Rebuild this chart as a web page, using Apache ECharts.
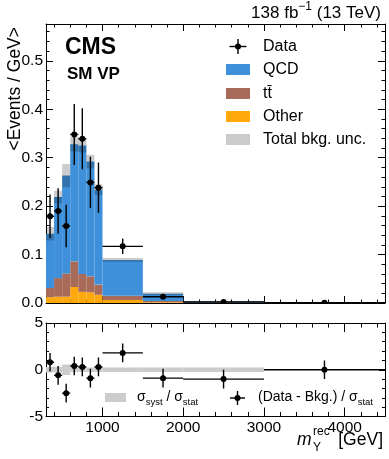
<!DOCTYPE html>
<html><head><meta charset="utf-8">
<script src="https://cdn.jsdelivr.net/npm/echarts@6/dist/echarts.min.js"></script>
<style>html,body{margin:0;padding:0;background:#fff}#c{width:389px;height:459px}</style>
</head><body><div id="c"></div>
<script>
// ---------------- data ----------------
const binEdges  = [300, 400, 500, 600, 700, 800, 900, 1000, 1500, 2000, 3000, 4500];
const qcdVals   = [0.112, 0.1675, 0.202, 0.242, 0.265, 0.237, 0.196, 0.074, 0.015, 0.0022, 0.0003];
const ttbarVals = [0.019, 0.0385, 0.048, 0.053, 0.037, 0.033, 0.021, 0.009, 0.0025, 0.0005, 0.00005];
const otherVals = [0.012, 0.013, 0.013, 0.033, 0.023, 0.022, 0.017, 0.006, 0.0015, 0.0003, 0.00005];
const bkgUnc    = [0.014, 0.013, 0.024, 0.015, 0.014, 0.014, 0.011, 0.004, 0.003, 0.001, 0.0002];
const dataVals  = [0.179, 0.190, 0.159, 0.348, 0.339, 0.249, 0.238, 0.117, 0.013, 0.002, 0.0007];
const dataErr   = [0.045, 0.047, 0.044, 0.063, 0.063, 0.053, 0.052, 0.016, 0.005, 0.0014, 0.0007];
const pullVals  = [0.8, -0.6, -2.5, 0.4, 0.3, -0.9, 0.3, 1.8, -0.9, -1.0, 0.0];
const pullErr   = [1, 1, 1, 1, 1, 1, 1, 1, 1, 1, 1];
const systOverStat = [0.3, 0.3, 0.55, 0.25, 0.25, 0.25, 0.25, 0.25, 0.25, 0.25, 0.04];
const xTickLabels = [1000, 2000, 3000, 4000];
const yTickLabels = [0, 0.1, 0.2, 0.3, 0.4, 0.5];
const pullTickLabels = [-5, 0, 5];

// ---------------- helpers ----------------
const FONT = '"Liberation Sans", Arial, Helvetica, sans-serif';
const COL = {qcd: '#3f90da', tt: '#a96b59', other: '#ffa90e', unc: 'rgba(0,0,0,0.2)', band: '#cccccc'};
function range(a, b, s) { const r = []; for (let v = a; v <= b + 1e-9; v += s) r.push(Math.round(v * 1e6) / 1e6); return r; }
const nb = binEdges.length - 1;
const lo = binEdges.slice(0, nb), hi = binEdges.slice(1);

function stackData(baseArr, valArr) {
  return lo.map((l, i) => [l, hi[i], baseArr[i], baseArr[i] + valArr[i]]);
}
const zeros = lo.map(() => 0);
const ttBase = otherVals;
const qcdBase = otherVals.map((v, i) => v + ttbarVals[i]);
const totals = qcdBase.map((v, i) => v + qcdVals[i]);

function rectRender(color) {
  return function (params, api) {
    const p0 = api.coord([api.value(0), api.value(3)]);
    const p1 = api.coord([api.value(1), api.value(2)]);
    return {type: 'rect', shape: {x: p0[0], y: p0[1], width: p1[0] - p0[0], height: p1[1] - p0[1]},
      style: {fill: color}};
  };
}
function pointRender(params, api) {
  const xc = api.value(0), y = api.value(1), e = api.value(2), l = api.value(3), h = api.value(4);
  const c = api.coord([xc, y]);
  const top = api.coord([xc, y + e]), bot = api.coord([xc, y - e]);
  const left = api.coord([l, y]), right = api.coord([h, y]);
  const ls = {stroke: '#000', lineWidth: 1.4};
  return {type: 'group', children: [
    {type: 'line', shape: {x1: c[0], y1: top[1], x2: c[0], y2: bot[1]}, style: ls},
    {type: 'line', shape: {x1: left[0], y1: c[1], x2: right[0], y2: c[1]}, style: ls},
    {type: 'circle', shape: {cx: c[0], cy: c[1], r: 3}, style: {fill: '#000'}}
  ]};
}

function xAx(grid, pos, vals, len, showLine, labels) {
  return {type: 'value', gridIndex: grid, position: pos, min: 300, max: 4500,
    axisLine: {show: showLine, onZero: false, lineStyle: {color: '#000', width: 1}},
    axisTick: {show: true, inside: true, length: len, customValues: vals, lineStyle: {color: '#000', width: 1}},
    axisLabel: labels ? {show: true, customValues: xTickLabels, margin: 3, color: '#000',
      fontFamily: FONT, fontSize: 15.5, formatter: v => String(v)} : {show: false},
    splitLine: {show: false}, minorTick: {show: false}};
}
function yAx(grid, pos, min, max, vals, len, showLine, labels, fmt) {
  return {type: 'value', gridIndex: grid, position: pos, min: min, max: max,
    axisLine: {show: showLine, onZero: false, lineStyle: {color: '#000', width: 1}},
    axisTick: {show: true, inside: true, length: len, customValues: vals, lineStyle: {color: '#000', width: 1}},
    axisLabel: labels ? {show: true, customValues: labels, margin: 3, color: '#000',
      fontFamily: FONT, fontSize: 15.5, formatter: fmt} : {show: false},
    splitLine: {show: false}, minorTick: {show: false}};
}

const xMinor = range(400, 4400, 200);
const yMinor = range(0.02, 0.56, 0.02);
const pMinor = range(-4, 4, 1);

// text measuring for composite labels
const mctx = document.createElement('canvas').getContext('2d');
function fontStr(s, w, st) { return `${st || 'normal'} ${w || 'normal'} ${s}px ${FONT}`; }
function tw(t, s, w, st) { mctx.font = fontStr(s, w, st); return mctx.measureText(t).width; }
function txt(x, y, t, s, o) {
  o = o || {};
  return {type: 'text', x: x, y: y, rotation: o.rot || 0, z: 100,
    style: {text: t, font: fontStr(s, o.w, o.st), fill: '#000',
      align: o.align || 'left', textAlign: o.align || 'left',
      verticalAlign: 'middle', textVerticalAlign: 'middle'}};
}
function seq(x, pieces, align) {
  const widths = pieces.map(p => tw(p.t, p.s, p.w, p.st));
  const total = widths.reduce((a, b) => a + b, 0);
  let cx = align === 'right' ? x - total : x;
  return pieces.map((p, i) => { const el = txt(cx, p.y, p.t, p.s, p); cx += widths[i]; return el; });
}
function cross(cx, cy, hw, hh) {
  const ls = {stroke: '#000', lineWidth: 1.4};
  return [
    {type: 'line', z: 100, shape: {x1: cx, y1: cy - hh, x2: cx, y2: cy + hh}, style: ls},
    {type: 'line', z: 100, shape: {x1: cx - hw, y1: cy, x2: cx + hw, y2: cy}, style: ls},
    {type: 'circle', z: 100, shape: {cx: cx, cy: cy, r: 3}, style: {fill: '#000'}}
  ];
}
function box(x, y, w, h, c) { return {type: 'rect', z: 100, shape: {x: x, y: y, width: w, height: h}, style: {fill: c}}; }

const graphics = [].concat(
  seq(381, [{t: '138 fb', s: 17, y: 13.5}, {t: '\u22121', s: 12, y: 6.5}, {t: ' (13 TeV)', s: 17, y: 13.5}], 'right'),
  [txt(65, 47.5, 'CMS', 23, {w: 'bold'}), txt(67, 74, 'SM VP', 17, {w: 'bold'})],
  cross(238, 46.5, 8.5, 7.5),
  [txt(263, 46.5, 'Data', 16)],
  [box(226, 64, 24, 11, COL.qcd), txt(263, 70, 'QCD', 16)],
  [box(226, 88, 24, 11, COL.tt), txt(263, 93.5, 't\u0074\u0304', 16)],
  [box(226, 111, 24, 11, COL.other), txt(263, 117, 'Other', 16)],
  [box(226, 134, 24, 11, COL.band), txt(263, 140, 'Total bkg. unc.', 16)],
  [txt(15, 27, '<Events / GeV>', 17.5, {rot: Math.PI / 2, align: 'right'})],
  [box(105, 393, 21, 9, COL.band)],
  seq(137, [{t: '\u03c3', s: 14, y: 397}, {t: 'syst', s: 9.5, y: 402}, {t: ' / \u03c3', s: 14, y: 397}, {t: 'stat', s: 9.5, y: 402}]),
  cross(237.5, 398, 7.5, 7),
  seq(258, [{t: '(Data - Bkg.) / \u03c3', s: 14, y: 397}, {t: 'stat', s: 9.5, y: 402}]),
  [txt(383, 440, '[GeV]', 17.5, {align: 'right'}),
   txt(297, 440, 'm', 17.5, {st: 'italic'}),
   txt(313, 431.5, 'rec', 12),
   txt(313, 448, 'Y', 12)]
);

const chart = echarts.init(document.getElementById('c'), null, {renderer: 'canvas'});
chart.setOption({
  animation: false,
  backgroundColor: '#fff',
  grid: [
    {left: 46, top: 24, width: 339, height: 279, show: false},
    {left: 46, top: 323, width: 339, height: 93.5, show: false}
  ],
  xAxis: [
    xAx(0, 'bottom', xTickLabels, 7, true, false),
    xAx(0, 'bottom', xMinor, 3.5, false, false),
    xAx(0, 'top', xTickLabels, 7, true, false),
    xAx(0, 'top', xMinor, 3.5, false, false),
    xAx(1, 'bottom', xTickLabels, 9, true, true),
    xAx(1, 'bottom', xMinor, 4.5, false, false),
    xAx(1, 'top', xTickLabels, 9, true, false),
    xAx(1, 'top', xMinor, 4.5, false, false)
  ],
  yAxis: [
    yAx(0, 'left', 0, 0.576, yTickLabels, 7, true, yTickLabels, v => v.toFixed(1)),
    yAx(0, 'left', 0, 0.576, yMinor, 3.5, false, null),
    yAx(0, 'right', 0, 0.576, yTickLabels, 7, true, null),
    yAx(0, 'right', 0, 0.576, yMinor, 3.5, false, null),
    yAx(1, 'left', -5, 5, pullTickLabels, 6, true, pullTickLabels, v => String(v)),
    yAx(1, 'left', -5, 5, pMinor, 3, false, null),
    yAx(1, 'right', -5, 5, pullTickLabels, 6, true, null),
    yAx(1, 'right', -5, 5, pMinor, 3, false, null)
  ],
  series: [
    {type: 'custom', name: 'Other', xAxisIndex: 0, yAxisIndex: 0, clip: true,
      renderItem: rectRender(COL.other), data: stackData(zeros, otherVals)},
    {type: 'custom', name: 'ttbar', xAxisIndex: 0, yAxisIndex: 0, clip: true,
      renderItem: rectRender(COL.tt), data: stackData(ttBase, ttbarVals)},
    {type: 'custom', name: 'QCD', xAxisIndex: 0, yAxisIndex: 0, clip: true,
      renderItem: rectRender(COL.qcd), data: stackData(qcdBase, qcdVals)},
    {type: 'custom', name: 'Unc', xAxisIndex: 0, yAxisIndex: 0, clip: true,
      renderItem: rectRender(COL.unc), data: lo.map((l, i) => [l, hi[i], totals[i] - bkgUnc[i], totals[i] + bkgUnc[i]])},
    {type: 'custom', name: 'Data', xAxisIndex: 0, yAxisIndex: 0, clip: true, z: 5,
      renderItem: pointRender, data: lo.map((l, i) => [(l + hi[i]) / 2, dataVals[i], dataErr[i], l, hi[i]])},
    {type: 'custom', name: 'Band', xAxisIndex: 4, yAxisIndex: 4, clip: true,
      renderItem: rectRender(COL.band), data: lo.map((l, i) => [l, hi[i], -systOverStat[i], systOverStat[i]])},
    {type: 'custom', name: 'Pull', xAxisIndex: 4, yAxisIndex: 4, clip: true, z: 5,
      renderItem: pointRender, data: lo.map((l, i) => [(l + hi[i]) / 2, pullVals[i], pullErr[i], l, hi[i]])}
  ],
  graphic: {elements: graphics}
});
</script></body></html>
